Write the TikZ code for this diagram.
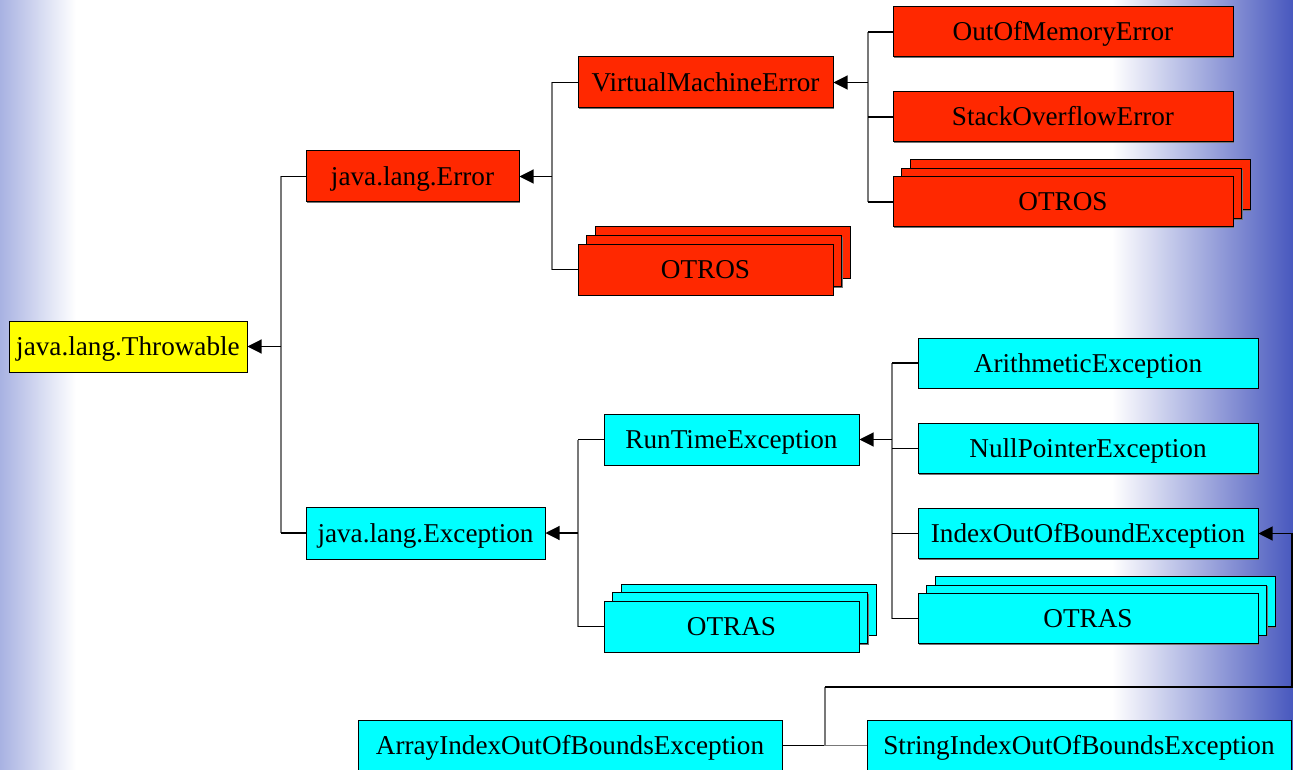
\documentclass[tikz,border=0pt]{standalone}
\usepackage{fontspec}
\setmainfont{Liberation Serif}
\usetikzlibrary{arrows.meta,shadows}
\definecolor{errred}{RGB}{255,40,0}
\definecolor{exccyan}{RGB}{0,255,255}
\definecolor{thryel}{RGB}{255,255,0}
\definecolor{bgl}{RGB}{168,178,226}
\definecolor{bgr}{RGB}{72,88,190}
\definecolor{busgray}{RGB}{120,120,120}
\begin{document}
\begin{tikzpicture}[x=1pt,y=-1pt,
  box/.style={draw=black, line width=1pt, inner sep=0pt, text=black,
    font=\fontsize{27.2}{30}\selectfont, text height=23pt, text depth=5pt,
    drop shadow={shadow xshift=1.2pt, shadow yshift=-1.2pt, fill=black!55, opacity=1}},
  redbox/.style={box, fill=errred},
  cyanbox/.style={box, fill=exccyan},
  yelbox/.style={box, fill=thryel},
  sz1/.style={minimum width=255pt, minimum height=51pt},
  sz2/.style={minimum width=340pt, minimum height=50pt},
  sz3/.style={minimum width=424pt, minimum height=51pt},
  bus/.style={draw=busgray, line width=1.3pt},
  stub/.style={draw=black, line width=1.1pt},
  arr/.style={draw=black, line width=1.1pt, -{Triangle[length=14pt,width=14pt]}}
]
\useasboundingbox (0,0) rectangle (1293,770);
\fill[white] (0,0) rectangle (1293,770);
\shade[left color=bgl, right color=white] (0,0) rectangle (76,770);
\shade[left color=white, right color=bgr] (1112,0) rectangle (1293,770);

% nodes
\node[yelbox, minimum width=238pt, minimum height=51pt] (thr) at (128,346.5) {java.lang.Throwable};
\node[redbox, minimum width=213pt, minimum height=51pt] (err) at (412.5,176.5) {java.lang.Error};
\node[cyanbox, minimum width=239pt, minimum height=52pt] (exc) at (425.5,533) {java.lang.Exception};

\node[redbox, sz1] (vme) at (705.5,82.5) {VirtualMachineError};
\node[redbox, sz1] (otrosAc) at (722.5,252.5) {};
\node[redbox, sz1] (otrosAb) at (714,261) {};
\node[redbox, sz1] (otrosA) at (705.5,269.5) {OTROS};

\node[redbox, sz2] (oom) at (1063,32) {OutOfMemoryError};
\node[redbox, sz2] (soe) at (1063,117) {StackOverflowError};
\node[redbox, sz2] (otrosBc) at (1080,185) {};
\node[redbox, sz2] (otrosBb) at (1071.5,193.5) {};
\node[redbox, sz2] (otrosB) at (1063,202) {OTROS};

\node[cyanbox, sz1] (rte) at (731.5,439.5) {RunTimeException};
\node[cyanbox, sz1] (otrasAc) at (748.5,609.5) {};
\node[cyanbox, sz1] (otrasAb) at (740,618) {};
\node[cyanbox, sz1] (otrasA) at (731.5,626.5) {OTRAS};

\node[cyanbox, sz2] (ari) at (1088,363) {ArithmeticException};
\node[cyanbox, sz2] (npe) at (1088,448.5) {NullPointerException};
\node[cyanbox, sz2] (ioob) at (1088,533.5) {IndexOutOfBoundException};
\node[cyanbox, sz2] (otrasBc) at (1105,601.5) {};
\node[cyanbox, sz2] (otrasBb) at (1096.5,610) {};
\node[cyanbox, sz2] (otrasB) at (1088,618.5) {OTRAS};

\node[cyanbox, sz3] (aio) at (570,745.5) {ArrayIndexOutOfBoundsException};
\node[cyanbox, sz3] (sio) at (1079,745.5) {StringIndexOutOfBoundsException};

% bus coordinates
\coordinate (b1) at (281,346.5);
\coordinate (b2) at (552,176.5);
\coordinate (b3) at (868,82.5);
\coordinate (b4) at (578,533);
\coordinate (b5) at (892,439.5);
\coordinate (b6) at (825,745.5);
\coordinate (r6) at (1292,687);

% Throwable
\draw[bus] (b1 |- err.west) -- (b1 |- exc.west);
\draw[stub] (b1 |- err.west) -- (err.west);
\draw[stub] (b1 |- exc.west) -- (exc.west);
\draw[arr] (b1) -- (thr.east);

% Error
\draw[bus] (b2 |- vme.west) -- (b2 |- otrosA.west);
\draw[stub] (b2 |- vme.west) -- (vme.west);
\draw[stub] (b2 |- otrosA.west) -- (otrosA.west);
\draw[arr] (b2) -- (err.east);

% VirtualMachineError
\draw[bus] (b3 |- oom.west) -- (b3 |- otrosB.west);
\draw[stub] (b3 |- oom.west) -- (oom.west);
\draw[stub] (b3 |- soe.west) -- (soe.west);
\draw[stub] (b3 |- otrosB.west) -- (otrosB.west);
\draw[arr] (b3) -- (vme.east);

% Exception
\draw[bus] (b4 |- rte.west) -- (b4 |- otrasA.west);
\draw[stub] (b4 |- rte.west) -- (rte.west);
\draw[stub] (b4 |- otrasA.west) -- (otrasA.west);
\draw[arr] (b4) -- (exc.east);

% RunTimeException
\draw[bus] (b5 |- ari.west) -- (b5 |- otrasB.west);
\draw[stub] (b5 |- ari.west) -- (ari.west);
\draw[stub] (b5 |- npe.west) -- (npe.west);
\draw[stub] (b5 |- ioob.west) -- (ioob.west);
\draw[stub] (b5 |- otrasB.west) -- (otrasB.west);
\draw[arr] (b5) -- (rte.east);

% IndexOutOfBound
\draw[stub] (aio.east) -- (b6);
\draw[bus] (b6) -- (sio.west);
\draw[bus] (b6) -- (b6 |- r6);
\draw[arr] (b6 |- r6) -- (r6) -- (r6 |- ioob.east) -- (ioob.east);
\end{tikzpicture}
\end{document}
